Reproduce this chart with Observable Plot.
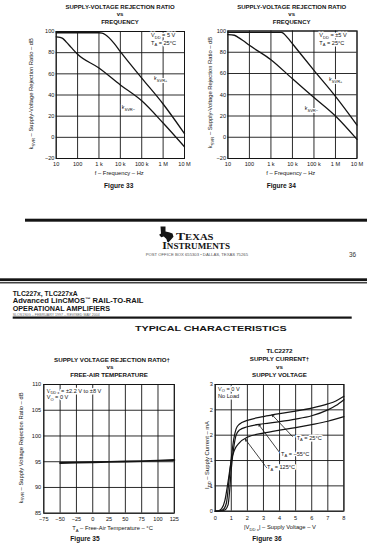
<!DOCTYPE html>
<html><head><meta charset="utf-8">
<script src="https://cdn.jsdelivr.net/npm/d3@7"></script>
<script src="https://cdn.jsdelivr.net/npm/@observablehq/plot@0.6"></script>
<style>
html,body{margin:0;padding:0;background:#fff;}
#page{position:relative;width:367px;height:550px;overflow:hidden;background:#fff;}
.fig{position:absolute;}
#overlay{position:absolute;left:0;top:0;}
</style></head><body><div id="page"></div>
<script>
// ---------- data ----------
const freqTicks = [10, 100, 1e3, 1e4, 1e5, 1e6, 1e7];
const freqTickLabels = ["10", "100", "1 k", "10 k", "100 k", "1 M", "10 M"];
const svrTicks = [-20, 0, 20, 40, 60, 80, 100];

// Figure 33 (VDD = 5 V)
const f33PlusFreq = [10, 100, 1000, 1400, 2000, 3000, 5000, 1e4, 1e5, 1e6, 1e7];
const f33PlusDb   = [98.8, 98.8, 98.8, 98.5, 97, 94, 89, 81, 56, 31.5, 3.5];
const f33MinusFreq = [10, 15, 20, 30, 50, 100, 1000, 1e4, 1e5, 1e6, 1e7];
const f33MinusDb   = [95, 94.5, 93.5, 90, 85, 78.5, 65.5, 49.5, 34.5, 13.5, -9];

// Figure 34 (VDD = ±5 V)
const f34PlusFreq = [10, 100, 1000, 3000, 4000, 6000, 1e4, 1e5, 1e6, 1e7];
const f34PlusDb   = [98.8, 98.8, 98.8, 98.8, 97.5, 93.5, 88, 63, 38.5, 11.5];
const f34MinusFreq = [10, 20, 30, 50, 100, 1000, 1e4, 1e5, 1e6, 1e7];
const f34MinusDb   = [96.5, 96, 94, 91, 86.5, 73, 55, 37.5, 20, -2];

// Figure 35
const tempTicks = [-75, -50, -25, 0, 25, 50, 75, 100, 125];
const svr35Ticks = [85, 90, 95, 100, 105, 110];
const f35Temp = [-50, -25, 0, 25, 50, 75, 100, 125];
const f35Db   = [94.75, 94.82, 94.9, 94.97, 95.05, 95.12, 95.22, 95.32];

// Figure 36
const vddTicks = [0, 1, 2, 3, 4, 5, 6, 7, 8];
const iddTicks = [0, 0.6, 1.2, 1.8, 2.4, 3];
const vdd25  = [0, 0.3, 0.5, 0.7, 0.85, 1.0, 1.15, 1.3, 1.5, 2, 3, 4, 5, 6, 7, 7.5, 8];
const idd25  = [0, 0.01, 0.04, 0.2, 0.7, 1.25, 1.7, 1.95, 2.06, 2.15, 2.24, 2.31, 2.37, 2.44, 2.54, 2.61, 2.72];
const vddM55 = [0, 0.4, 0.6, 0.8, 0.9, 1.0, 1.15, 1.3, 1.5, 2, 3, 4, 5, 6, 7, 7.5, 8];
const iddM55 = [0, 0.01, 0.03, 0.15, 0.5, 1.0, 1.5, 1.8, 1.92, 2.0, 2.07, 2.12, 2.18, 2.26, 2.4, 2.5, 2.64];
const vdd125 = [0, 0.2, 0.4, 0.6, 0.8, 1.0, 1.2, 1.5, 2, 3, 4, 5, 6, 7, 8];
const idd125 = [0, 0.01, 0.06, 0.25, 0.7, 1.2, 1.45, 1.62, 1.75, 1.85, 1.92, 1.98, 2.05, 2.13, 2.24];
// callout leaders (from label toward curve), in data units
const calloutFromV = [4.8, 4.02, 3.2];
const calloutFromI = [1.77, 1.38, 1.03];
const calloutToV   = [3.54, 2.71, 1.88];
const calloutToI   = [2.28, 2.05, 1.70];

// ---------- helpers ----------
const FONT = "'Liberation Sans', Arial, Helvetica, sans-serif";
const SERIF = "'Liberation Serif', 'DejaVu Serif', serif";
const INK = "#141414";
const zip = (xs, ys, kx, ky) => xs.map((v, i) => ({[kx]: v, [ky]: ys[i]}));
const freqLabel = new Map(freqTicks.map((t, i) => [t, freqTickLabels[i]]));

const page = d3.select("#page");
function place(plot, left, top) {
  page.append("div").attr("class", "fig")
    .style("left", left + "px").style("top", top + "px")
    .node().appendChild(plot);
}
const baseStyle = {background: "transparent", fontFamily: FONT, fontSize: "5.6px", color: INK, overflow: "visible", maxWidth: "none"};
const gridOpts = {stroke: INK, strokeOpacity: 1, strokeWidth: 0.9};

function svrPlot(w, h, m, plus, minus) {
  return Plot.plot({
    width: w, height: h,
    marginLeft: m[0], marginTop: m[1], marginRight: m[2], marginBottom: m[3],
    style: baseStyle,
    x: {type: "log", domain: [10, 1e7]},
    y: {domain: [-20, 100]},
    marks: [
      Plot.gridX(freqTicks, gridOpts),
      Plot.gridY(svrTicks, gridOpts),
      Plot.frame({stroke: INK, strokeWidth: 1}),
      Plot.line(plus, {x: "f", y: "db", stroke: INK, strokeWidth: 1.3, curve: "monotone-x"}),
      Plot.line(minus, {x: "f", y: "db", stroke: INK, strokeWidth: 1.3, curve: "monotone-x"}),
      Plot.axisX(freqTicks, {tickSize: 0, tickPadding: 3.2, tickFormat: d => freqLabel.get(d), label: null}),
      Plot.axisY(svrTicks, {tickSize: 0, tickPadding: 1.8, label: null})
    ]
  });
}

place(svrPlot(192, 192, [55.7, 31, 8, 34],
  zip(f33PlusFreq, f33PlusDb, "f", "db"), zip(f33MinusFreq, f33MinusDb, "f", "db")), 0, 0);
place(svrPlot(182, 192, [42.4, 30.5, 10.5, 34],
  zip(f34PlusFreq, f34PlusDb, "f", "db"), zip(f34MinusFreq, f34MinusDb, "f", "db")), 185, 0);

place(Plot.plot({
  width: 185, height: 200,
  marginLeft: 43.3, marginTop: 44, marginRight: 11.2, marginBottom: 27.3,
  style: baseStyle,
  x: {domain: [-75, 125]},
  y: {domain: [85, 110]},
  marks: [
    Plot.gridX(tempTicks, gridOpts),
    Plot.gridY(svr35Ticks, gridOpts),
    Plot.frame({stroke: INK, strokeWidth: 1}),
    Plot.line(zip(f35Temp, f35Db, "t", "db"), {x: "t", y: "db", stroke: INK, strokeWidth: 1.9}),
    Plot.axisX(tempTicks, {tickSize: 0, tickPadding: 4, label: null}),
    Plot.axisY(svr35Ticks, {tickSize: 0, tickPadding: 2.6, label: null})
  ]
}), 0, 340);

const callouts = calloutFromV.map((v, i) => ({x1: v, y1: calloutFromI[i], x2: calloutToV[i], y2: calloutToI[i]}));
place(Plot.plot({
  width: 182, height: 200,
  marginLeft: 29.7, marginTop: 44, marginRight: 23.6, marginBottom: 29.3,
  style: baseStyle,
  x: {domain: [0, 8]},
  y: {domain: [0, 3]},
  marks: [
    Plot.gridX(vddTicks, gridOpts),
    Plot.gridY(iddTicks, gridOpts),
    Plot.frame({stroke: INK, strokeWidth: 1}),
    Plot.line(zip(vdd25, idd25, "v", "i"), {x: "v", y: "i", stroke: INK, strokeWidth: 1.2, curve: "monotone-x"}),
    Plot.line(zip(vddM55, iddM55, "v", "i"), {x: "v", y: "i", stroke: INK, strokeWidth: 1.2, curve: "monotone-x"}),
    Plot.line(zip(vdd125, idd125, "v", "i"), {x: "v", y: "i", stroke: INK, strokeWidth: 1.2, curve: "monotone-x"}),
    Plot.arrow(callouts, {x1: "x1", y1: "y1", x2: "x2", y2: "y2", stroke: INK, strokeWidth: 0.8, headLength: 3.5}),
    Plot.axisX(vddTicks, {tickSize: 0, tickPadding: 4.5, label: null}),
    Plot.axisY(iddTicks, {tickSize: 0, tickPadding: 2.4, label: null})
  ]
}), 185, 340);

// ---------- overlay: page text, rules, logo ----------
const ov = page.append("svg").attr("id", "overlay").attr("width", 367).attr("height", 550);

function label(x, y, parts, o = {}) {
  const size = o.size || 5.7;
  const t = ov.append("text")
    .attr("x", x).attr("y", y)
    .attr("font-size", size)
    .attr("font-family", o.family || FONT)
    .attr("font-weight", o.weight || "normal")
    .attr("text-anchor", o.anchor || "start")
    .attr("fill", o.fill || INK);
  if (o.rotate) t.attr("transform", `rotate(${o.rotate},${x},${y})`);
  if (o.halo) t.attr("stroke", "white").attr("stroke-width", o.halo).attr("paint-order", "stroke").attr("stroke-linejoin", "round");
  if (o.length) t.attr("textLength", o.length).attr("lengthAdjust", o.adjust || "spacingAndGlyphs");
  let shift = 0;
  for (const p of (typeof parts === "string" ? [parts] : parts)) {
    const [s, kind] = Array.isArray(p) ? p : [p, null];
    const target = kind === "sub" ? size * 0.3 : kind === "sup" ? -size * 0.4 : 0;
    const ts = t.append("tspan").text(s);
    if (target - shift !== 0) ts.attr("dy", target - shift);
    if (kind === "sc") ts.attr("font-size", size * 0.78);
    else if (kind) ts.attr("font-size", size * 0.72);
    shift = target;
  }
  return t;
}
const rect = (x, y, w, h) => ov.append("rect").attr("x", x).attr("y", y).attr("width", w).attr("height", h).attr("fill", INK);

// Figure 33
label(120, 8.9, "SUPPLY-VOLTAGE REJECTION RATIO", {size: 6, weight: "bold", anchor: "middle"});
label(120, 15.9, "vs", {size: 6, weight: "bold", anchor: "middle"});
label(120, 23.9, "FREQUENCY", {size: 6, weight: "bold", anchor: "middle"});
label(33.4, 93.8, ["k", ["SVR", "sub"], " – Supply-Voltage Rejection Ratio – dB"], {size: 5.8, anchor: "middle", rotate: -90});
label(119.3, 174.8, "f – Frequency – Hz", {size: 5.8, anchor: "middle"});
label(118.7, 188.4, "Figure 33", {size: 6.6, weight: "bold", anchor: "middle"});
label(151, 37, ["V", ["DD", "sub"], " = 5 V"], {size: 5.6, halo: 3});
label(151, 44.8, ["T", ["A", "sub"], " = 25°C"], {size: 5.6, halo: 3});
label(154, 80.3, ["k", ["SVR+", "sub"]], {size: 5.6, halo: 2});
label(121.7, 109.3, ["k", ["SVR−", "sub"]], {size: 5.6, halo: 2});

// Figure 34
label(291.7, 8.9, "SUPPLY-VOLTAGE REJECTION RATIO", {size: 6, weight: "bold", anchor: "middle"});
label(291.7, 15.9, "vs", {size: 6, weight: "bold", anchor: "middle"});
label(291.7, 23.9, "FREQUENCY", {size: 6, weight: "bold", anchor: "middle"});
label(212.4, 92.5, ["k", ["SVR", "sub"], " – Supply-Voltage Rejection Ratio – dB"], {size: 5.8, anchor: "middle", rotate: -90});
label(290.8, 174.8, "f – Frequency – Hz", {size: 5.8, anchor: "middle"});
label(281.3, 188.4, "Figure 34", {size: 6.6, weight: "bold", anchor: "middle"});
label(319.3, 37, ["V", ["DD", "sub"], " = ±5 V"], {size: 5.6, halo: 3});
label(319.3, 44.8, ["T", ["A", "sub"], " = 25°C"], {size: 5.6, halo: 3});
label(329, 81, ["k", ["SVR+", "sub"]], {size: 5.6, halo: 2});
label(304.7, 110.3, ["k", ["SVR−", "sub"]], {size: 5.6, halo: 2});

// page footer of upper sheet
rect(25, 218.7, 342, 3);
ov.append("path")
  .attr("d", "M160.5,226.5 h5 v5 l3.5,0.8 l3.5,1.2 l1,3.3 l-2.6,2.9 l-2.6,2.9 l-1,-0.8 l-0.9,-2.9 l-2.6,-2.5 l-2.6,0.8 l-2.1,-2.5 l1.9,-1.2 z")
  .attr("fill", INK);
label(176, 240, ["T", ["EXAS", "sc"]], {size: 9.5, weight: "bold", family: SERIF, length: 37.5});
label(162.3, 249, ["I", ["NSTRUMENTS", "sc"]], {size: 9.5, weight: "bold", family: SERIF, length: 67.7});
label(145.7, 255.6, "POST OFFICE BOX 655303 • DALLAS, TEXAS 75265", {size: 3.7, fill: "#555", length: 102.3});
label(349, 257, "36", {size: 6.4, fill: "#333"});

// lower sheet header
rect(0, 278.3, 367, 2.8);
rect(0, 282.2, 367, 1.2);
label(12.7, 295.6, "TLC227x, TLC227xA", {size: 6.9, weight: "bold", length: 65});
label(12.7, 303.3, ["Advanced LinCMOS", ["™", "sup"], " RAIL-TO-RAIL"], {size: 6.9, weight: "bold", length: 130.7});
label(12.7, 311, "OPERATIONAL AMPLIFIERS", {size: 6.9, weight: "bold", length: 97.3});
label(12.7, 315.7, "SLOS190G – FEBRUARY 1997 – REVISED MAY 2004", {size: 3.4, fill: "#666", length: 87});
rect(12.7, 316.5, 339, 2.2);
label(210.8, 330.8, "TYPICAL CHARACTERISTICS", {size: 8, weight: "bold", anchor: "middle", length: 151.7});

// Figure 35
label(112, 362.2, "SUPPLY VOLTAGE REJECTION RATIO†", {size: 6.2, weight: "bold", anchor: "middle"});
label(110, 369.4, "vs", {size: 6.2, weight: "bold", anchor: "middle"});
label(109, 377.3, "FREE-AIR TEMPERATURE", {size: 6.2, weight: "bold", anchor: "middle"});
label(22.6, 448, ["k", ["SVR", "sub"], " – Supply Voltage Rejection Ratio – dB"], {size: 5.8, anchor: "middle", rotate: -90});
label(46.7, 392.6, ["V", ["DD ±", "sub"], " = ±2.2 V to ±8 V"], {size: 5.6, halo: 3});
label(46.7, 399, ["V", ["O", "sub"], " = 0 V"], {size: 5.6, halo: 3});
label(112.5, 529.8, ["T", ["A", "sub"], " – Free-Air Temperature – °C"], {size: 5.8, anchor: "middle"});
label(85, 541.4, "Figure 35", {size: 6.6, weight: "bold", anchor: "middle"});

// Figure 36
label(279.5, 353.2, "TLC2272", {size: 6.2, weight: "bold", anchor: "middle"});
label(279.5, 361.2, "SUPPLY CURRENT†", {size: 6.2, weight: "bold", anchor: "middle"});
label(279.5, 368.5, "vs", {size: 6.2, weight: "bold", anchor: "middle"});
label(279.5, 376.5, "SUPPLY VOLTAGE", {size: 6.2, weight: "bold", anchor: "middle"});
label(209.2, 455, ["I", ["DD", "sub"], " – Supply Current – mA"], {size: 5.8, anchor: "middle", rotate: -90});
label(218, 390.5, ["V", ["O", "sub"], " = 0 V"], {size: 5.6, halo: 3});
label(218, 398.2, "No Load", {size: 5.6, halo: 3});
label(296.7, 439.5, ["T", ["A", "sub"], " = 25°C"], {size: 5.6, halo: 3});
label(281, 455.5, ["T", ["A", "sub"], " = −55°C"], {size: 5.6, halo: 3});
label(267, 469, ["T", ["A", "sub"], " = 125°C"], {size: 5.6, halo: 3});
label(280, 528.8, ["|V", ["DD ±", "sub"], "| – Supply Voltage – V"], {size: 5.8, anchor: "middle"});
label(267, 541.4, "Figure 36", {size: 6.6, weight: "bold", anchor: "middle"});
</script>
</body></html>
